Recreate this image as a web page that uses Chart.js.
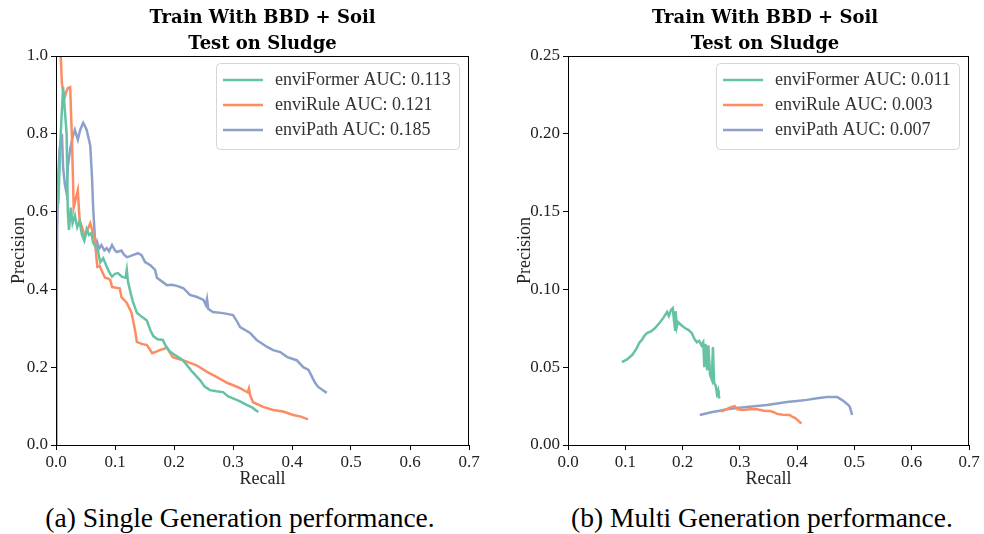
<!DOCTYPE html>
<html>
<head>
<meta charset="utf-8">
<script src="https://cdn.jsdelivr.net/npm/chart.js@4/dist/chart.umd.min.js"></script>
<style>
  body { margin: 0; background: #fff; width: 984px; height: 534px; position: relative; overflow: hidden; font-family: "Liberation Serif", serif; }
  .box { position: absolute; top: 0; width: 492px; height: 490px; }
  .ttl { position: absolute; top: 4px; text-align: center; font-family: "DejaVu Serif", serif; font-weight: bold; font-size: 18px; line-height: 26px; color: #000; }
  .cap { position: absolute; top: 502px; font-size: 27.5px; color: #000; text-align: center; width: 492px; }
</style>
</head>
<body>
<div class="box" style="left:0"><canvas id="single" width="492" height="490"></canvas></div>
<div class="box" style="left:492px"><canvas id="multi" width="492" height="490"></canvas></div>
<div class="ttl" style="left:0;width:525px">Train With BBD + Soil<br>Test on Sludge</div>
<div class="ttl" style="left:492px;width:546px">Train With BBD + Soil<br>Test on Sludge</div>
<div class="cap" style="left:-6px">(a) Single Generation performance.</div>
<div class="cap" style="left:516px">(b) Multi Generation performance.</div>
<script>
// single generation curves (recall, precision)
let singleFormerX = [0.004,0.008,0.012,0.015,0.018,0.02,0.022,0.025,0.028,0.032,0.036,0.04,0.044,0.048,0.052,0.056,0.06,0.063,0.067,0.071,0.075,0.08,0.086,0.09,0.095,0.1,0.105,0.112,0.118,0.12,0.122,0.125,0.13,0.137,0.145,0.154,0.16,0.165,0.172,0.181,0.186,0.193,0.205,0.215,0.23,0.244,0.252,0.261,0.272,0.283,0.292,0.3,0.312,0.323,0.333,0.338,0.343];
let singleFormerY = [0.62,0.8,0.92,0.86,0.8,0.6,0.553,0.61,0.57,0.59,0.56,0.575,0.54,0.525,0.555,0.54,0.545,0.52,0.51,0.5,0.47,0.48,0.458,0.445,0.433,0.44,0.442,0.432,0.43,0.45,0.42,0.4,0.37,0.34,0.33,0.32,0.295,0.28,0.272,0.27,0.255,0.24,0.228,0.218,0.19,0.167,0.15,0.141,0.138,0.136,0.125,0.12,0.112,0.103,0.096,0.09,0.085];
let singleRuleX = [0.005,0.008,0.01,0.012,0.015,0.018,0.02,0.024,0.027,0.03,0.033,0.037,0.04,0.044,0.049,0.054,0.058,0.062,0.066,0.07,0.074,0.077,0.083,0.088,0.092,0.095,0.1,0.108,0.111,0.116,0.12,0.128,0.134,0.137,0.145,0.154,0.158,0.163,0.17,0.176,0.188,0.198,0.215,0.238,0.256,0.272,0.29,0.312,0.325,0.327,0.329,0.334,0.351,0.368,0.385,0.402,0.415,0.427];
let singleRuleY = [1.0,1.0,0.93,0.91,0.895,0.91,0.917,0.92,0.79,0.61,0.63,0.655,0.578,0.56,0.535,0.555,0.57,0.55,0.527,0.458,0.46,0.45,0.43,0.428,0.424,0.406,0.405,0.403,0.38,0.372,0.365,0.34,0.295,0.265,0.26,0.257,0.248,0.236,0.24,0.244,0.25,0.226,0.218,0.205,0.188,0.175,0.16,0.146,0.135,0.145,0.128,0.11,0.098,0.09,0.086,0.077,0.073,0.066];
let singlePathX = [0.0,0.001,0.002,0.004,0.006,0.01,0.012,0.015,0.018,0.02,0.024,0.028,0.032,0.037,0.041,0.046,0.049,0.052,0.055,0.058,0.061,0.063,0.066,0.068,0.07,0.073,0.077,0.082,0.086,0.09,0.095,0.1,0.103,0.111,0.115,0.12,0.125,0.13,0.139,0.145,0.151,0.16,0.168,0.171,0.18,0.188,0.196,0.205,0.216,0.227,0.238,0.25,0.254,0.256,0.258,0.266,0.283,0.3,0.306,0.312,0.329,0.34,0.358,0.368,0.38,0.392,0.408,0.419,0.428,0.434,0.439,0.444,0.453,0.459];
let singlePathY = [0.0,0.3,0.55,0.7,0.76,0.8,0.715,0.67,0.647,0.715,0.76,0.79,0.81,0.785,0.81,0.828,0.82,0.81,0.79,0.77,0.69,0.61,0.53,0.5,0.52,0.505,0.514,0.5,0.506,0.498,0.514,0.5,0.496,0.5,0.49,0.483,0.485,0.488,0.493,0.488,0.47,0.462,0.45,0.43,0.42,0.411,0.412,0.409,0.403,0.386,0.381,0.373,0.36,0.375,0.35,0.342,0.339,0.334,0.32,0.303,0.288,0.27,0.252,0.244,0.239,0.226,0.218,0.2,0.193,0.175,0.16,0.15,0.14,0.134];

// multi generation curves
let multiFormerX = [0.094,0.103,0.112,0.12,0.125,0.129,0.133,0.138,0.145,0.152,0.161,0.167,0.173,0.176,0.18,0.183,0.185,0.187,0.188,0.19,0.192,0.198,0.204,0.21,0.216,0.221,0.225,0.229,0.233,0.236,0.238,0.24,0.243,0.245,0.248,0.251,0.253,0.255,0.258,0.26,0.262,0.263,0.265];
let multiFormerY = [0.0533,0.055,0.0578,0.0623,0.066,0.0675,0.07,0.072,0.073,0.0752,0.079,0.082,0.0855,0.083,0.087,0.088,0.08,0.074,0.086,0.076,0.079,0.077,0.0752,0.074,0.072,0.068,0.066,0.067,0.064,0.066,0.05,0.065,0.048,0.064,0.045,0.042,0.063,0.04,0.038,0.033,0.035,0.031,0.03];
let multiRuleX = [0.268,0.274,0.282,0.291,0.296,0.305,0.318,0.33,0.342,0.353,0.36,0.365,0.375,0.387,0.392,0.396,0.401,0.405,0.408];
let multiRuleY = [0.0215,0.0225,0.024,0.025,0.023,0.0225,0.023,0.023,0.022,0.0218,0.021,0.02,0.0195,0.0193,0.018,0.0174,0.016,0.0145,0.0141];
let multiPathX = [0.23,0.25,0.265,0.277,0.295,0.312,0.33,0.347,0.365,0.382,0.4,0.417,0.435,0.452,0.47,0.478,0.483,0.49,0.492,0.494,0.496];
let multiPathY = [0.0193,0.021,0.022,0.023,0.0238,0.0244,0.025,0.0257,0.0267,0.0276,0.0283,0.029,0.03,0.0308,0.0308,0.029,0.0276,0.0255,0.0244,0.022,0.0193];

let singleLabels = ['enviFormer AUC: 0.113','enviRule AUC: 0.121','enviPath AUC: 0.185'];
let multiLabels = ['enviFormer AUC: 0.011','enviRule AUC: 0.003','enviPath AUC: 0.007'];
let colors = ['#66c2a5','#fc8d62','#8da0cb'];

function pts(xs, ys){
  let out = [];
  for (let i=0;i<xs.length;i++){ out.push({x:xs[i], y:ys[i]}); }
  return out;
}

// legend box inside plot + top/right spines
const frame = {
  id: 'frame',
  afterDatasetsDraw(chart){
    const a = chart.chartArea, c = chart.ctx;
    c.save();
    c.strokeStyle = '#000'; c.lineWidth = 1;
    c.strokeRect(a.left+0.5, a.top+0.5, a.right-a.left-1, a.bottom-a.top);
    // legend
    const w = 243, h = 86;
    const x0 = a.right - 10 - w, y0 = a.top + 7;
    c.beginPath();
    c.roundRect(x0+0.5, y0+0.5, w, h, 4);
    c.fillStyle = 'rgba(255,255,255,0.8)'; c.fill();
    c.strokeStyle = '#d6d6d6'; c.stroke();
    c.font = '18px "Liberation Serif", serif';
    c.textBaseline = 'middle';
    chart.data.datasets.forEach((ds, i) => {
      const yy = y0 + 17 + i*25;
      c.strokeStyle = ds.borderColor; c.lineWidth = 2.5;
      c.beginPath(); c.moveTo(x0+7, yy); c.lineTo(x0+47, yy); c.stroke();
      c.fillStyle = '#333';
      c.fillText(ds.label, x0+59, yy);
    });
    c.restore();
  }
};

function makeChart(id, sets, labels, yMax, yStep, yDigits, padLeft, yWidth, padRight){
  let datasets = [];
  for (let i=0;i<sets.length;i++){
    datasets.push({label: labels[i], data: sets[i], borderColor: colors[i], borderWidth: 2.5,
      pointRadius: 0, tension: 0, fill: false});
  }
  const tickFont = {family: '"Liberation Serif", serif', size: 17};
  return new Chart(document.getElementById(id), {
    type: 'line',
    data: {datasets: datasets},
    options: {
      responsive: false, animation: false,
      layout: {padding: {left: padLeft, right: padRight, top: 56, bottom: 0}},
      plugins: {legend: {display: false}, tooltip: {enabled: false}},
      scales: {
        x: {type: 'linear', min: 0, max: 0.7,
          ticks: {stepSize: 0.1, color: '#222', font: tickFont, padding: 2, maxRotation: 0,
            callback: v => v.toFixed(1)},
          grid: {drawOnChartArea: false, color: '#000', tickLength: 5},
          border: {color: '#000', width: 1},
          title: {display: true, text: 'Recall', color: '#222', font: {family: '"Liberation Serif", serif', size: 18}, padding: 0},
          afterFit: s => { s.height = 45; }
        },
        y: {min: 0, max: yMax,
          ticks: {stepSize: yStep, color: '#222', font: tickFont, padding: 3,
            callback: v => v.toFixed(yDigits)},
          grid: {drawOnChartArea: false, color: '#000', tickLength: 5},
          border: {color: '#000', width: 1},
          title: {display: true, text: 'Precision', color: '#222', font: {family: '"Liberation Serif", serif', size: 18}, padding: 0},
          afterFit: s => { s.width = yWidth; }
        }
      }
    },
    plugins: [frame]
  });
}

makeChart('single', [pts(singleFormerX, singleFormerY), pts(singleRuleX, singleRuleY), pts(singlePathX, singlePathY)],
  singleLabels, 1.0, 0.2, 1, 8, 48, 23);
makeChart('multi', [pts(multiFormerX, multiFormerY), pts(multiRuleX, multiRuleY), pts(multiPathX, multiPathY)],
  multiLabels, 0.25, 0.05, 2, 22, 54, 15);
</script>
</body>
</html>
